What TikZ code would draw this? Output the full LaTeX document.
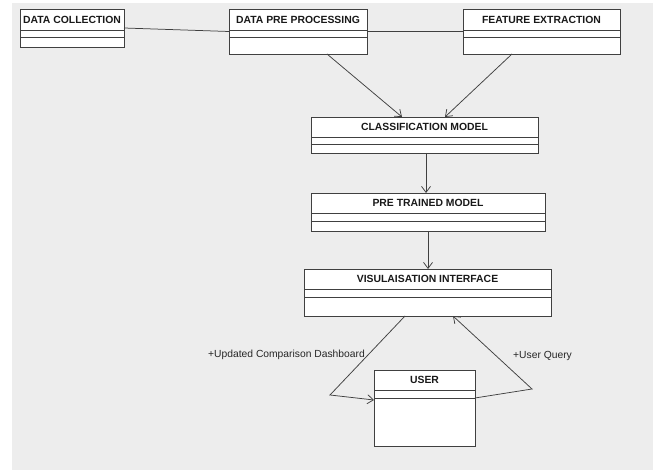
\documentclass[tikz,border=0pt]{standalone}
\usepackage{fontspec}
\setmainfont{Liberation Sans}
\usetikzlibrary{arrows.meta,calc}
\tikzset{
 clsbox/.style={draw=black!75, line width=0.85pt, fill=white, inner sep=0pt, outer sep=0pt},
 clsline/.style={draw=black!75, line width=0.85pt},
 clstitle/.style={font=\bfseries\fontsize{10.4}{12}\selectfont, inner sep=0pt, text=black!90},
 conn/.style={draw=black!75, line width=0.75pt},
 arr/.style={conn, -{Straight Barb[length=6pt,width=9pt]}},
 lbl/.style={font=\fontsize{10.3}{12}\selectfont, inner sep=0pt, text=black!85},
 bgfill/.style={fill=black!7, draw=none},
}
% name, x1, y1, x2, y2, sep1, sep2, title
\newcommand\umlclass[8]{%
 \node[clsbox, minimum width={(#4-#2)*1pt}, minimum height={(#5-#3)*1pt}] (#1) at ({(#2+#4)/2},{(#3+#5)/2}) {};
 \draw[clsline] (#2,#6) -- (#4,#6) (#2,#7) -- (#4,#7);
 \node[clstitle] (#1t) at ({(#2+#4)/2},{(#3+#6)/2}) {#8};
}
\begin{document}
\begin{tikzpicture}[x=1pt,y=-1pt]
\useasboundingbox (0,0) rectangle (657,470);
\path[bgfill] (12,3) rectangle (653,470);

\umlclass{dc}{20}{9}{124}{47}{30}{37}{DATA COLLECTION}
\umlclass{dpp}{229}{9}{367}{54}{30}{37}{DATA PRE PROCESSING}
\umlclass{fe}{463}{9}{620}{54}{30}{37}{FEATURE EXTRACTION}
\umlclass{cm}{311}{117}{538}{153}{137}{144}{CLASSIFICATION MODEL}
\umlclass{ptm}{311}{193}{545}{231}{213}{221}{PRE TRAINED MODEL}
\umlclass{vis}{304}{269}{551}{316}{289}{297}{VISULAISATION INTERFACE}
\umlclass{usr}{374}{370}{475}{446}{390}{398}{USER}

% associations between top classes
\draw[conn] (dc.east) -- (dpp.west);
\draw[conn] (dpp.east) -- (fe.west);

% arrows to classification model
\draw[arr] ($(dpp.south west)+(98,0)$) -- ($(cm.north west)+(91,0)$);
\draw[arr] ($(fe.south west)+(49,0)$) -- ($(cm.north west)+(134,0)$);

% vertical chain
\draw[arr] ($(cm.south west)+(115,0)$) -- ($(ptm.north west)+(115,0)$);
\draw[arr] ($(ptm.south west)+(117,0)$) -- ($(vis.north west)+(124,0)$);

% user interaction
\coordinate (lbend) at (330,395);
\coordinate (rbend) at (532,389);
\draw[arr] ($(vis.south west)+(101,0)$) -- (lbend) -- ($(usr.north west)+(0,30)$);
\draw[arr] ($(usr.north east)+(0,28)$) -- (rbend) -- ($(vis.south west)+(149,0)$);

\node[lbl, anchor=east] (l1) at (365,355) {+Updated Comparison Dashboard};
\node[lbl, anchor=west] (l2) at (513,356) {+User Query};
\end{tikzpicture}
\end{document}
